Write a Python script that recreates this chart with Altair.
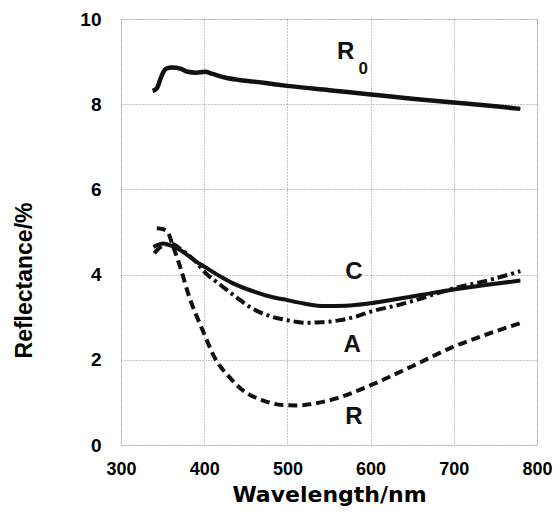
import altair as alt
import pandas as pd

# Reflectance spectra (wavelength nm, reflectance %)
r0_wl = [338, 343, 347, 351, 355, 361, 372, 380, 390, 401, 410, 426, 442, 460, 480, 500, 550, 600, 650, 700, 750, 780]
r0_val = [8.31, 8.37, 8.57, 8.76, 8.84, 8.86, 8.83, 8.76, 8.74, 8.76, 8.71, 8.62, 8.57, 8.53, 8.48, 8.43, 8.33, 8.23, 8.13, 8.04, 7.95, 7.89]

c_wl = [339, 351, 360, 371, 391, 400, 420, 434, 460, 480, 500, 520, 546, 570, 600, 630, 660, 700, 740, 780]
c_val = [4.65, 4.73, 4.68, 4.58, 4.30, 4.19, 3.95, 3.80, 3.60, 3.48, 3.40, 3.32, 3.26, 3.27, 3.33, 3.42, 3.52, 3.65, 3.76, 3.86]

a_wl = [340, 350, 360, 375, 390, 400, 420, 440, 454, 480, 500, 522, 540, 560, 580, 600, 634, 654, 680, 700, 740, 780]
a_val = [4.50, 4.68, 4.72, 4.55, 4.30, 4.07, 3.75, 3.45, 3.25, 3.02, 2.93, 2.87, 2.88, 2.92, 3.00, 3.13, 3.29, 3.40, 3.56, 3.68, 3.86, 4.08]

r_wl = [343, 350, 357, 361, 371, 382, 398, 414, 430, 446, 470, 494, 514, 534, 560, 580, 601, 650, 700, 740, 780]
r_val = [5.09, 5.07, 4.97, 4.75, 4.19, 3.48, 2.70, 2.00, 1.60, 1.29, 1.05, 0.94, 0.93, 0.98, 1.10, 1.24, 1.41, 1.85, 2.31, 2.60, 2.86]

# Curve labels
lab_text = ["R", "C", "A", "R"]
lab_wl = [570, 580, 578, 580]
lab_val = [9.22, 4.05, 2.35, 0.65]
sub_text = ["0"]
sub_wl = [591]
sub_val = [8.82]

x_ticks = [300, 400, 500, 600, 700, 800]
y_ticks = [0, 2, 4, 6, 8, 10]

xs = alt.Scale(domain=[300, 800], nice=False)
ys = alt.Scale(domain=[0, 10], nice=False)

X = alt.X("wl:Q", scale=xs, title="Wavelength/nm",
          axis=alt.Axis(values=x_ticks, ticks=False, domain=False, labelPadding=15,
                        labelFlush=False,
                        labelFont="Liberation Sans", labelFontWeight="bold", labelFontSize=18,
                        titleFont="DejaVu Sans", titleFontWeight="bold", titleFontSize=22,
                        titleY=56, titleBaseline="alphabetic",
                        gridColor="#8a8a8a", gridDash=[1, 2], gridWidth=1))
Y = alt.Y("val:Q", scale=ys, title="Reflectance/%",
          axis=alt.Axis(values=y_ticks, ticks=False, domain=False, labelPadding=20,
                        labelFont="Liberation Sans", labelFontWeight="bold", labelFontSize=19,
                        labelBaseline="middle", labelFlush=False,
                        titleFont="Liberation Sans", titleFontWeight="bold", titleFontSize=23,
                        titleX=-97, titleY=261, titleAngle=270, titleAlign="center",
                        titleBaseline="middle",
                        gridColor="#8a8a8a", gridDash=[1, 2], gridWidth=1))


def line(wl, val, dash, width):
    df = pd.DataFrame({"wl": wl, "val": val})
    kw = dict(color="#111111", strokeWidth=width, interpolate="monotone", strokeCap="butt")
    if dash:
        kw["strokeDash"] = dash
    return alt.Chart(df).mark_line(**kw).encode(x=X, y=Y)


l_r0 = line(r0_wl, r0_val, None, 4.5)
l_c = line(c_wl, c_val, None, 4)
l_a = line(a_wl, a_val, [10, 4, 3, 4], 4)
l_r = line(r_wl, r_val, [9, 5], 4)

labels = alt.Chart(pd.DataFrame({"wl": lab_wl, "val": lab_val, "t": lab_text})).mark_text(
    font="Liberation Sans", fontWeight="bold", fontSize=24, color="#111111", baseline="middle"
).encode(x=X, y=Y, text="t:N")
subs = alt.Chart(pd.DataFrame({"wl": sub_wl, "val": sub_val, "t": sub_text})).mark_text(
    font="Liberation Sans", fontWeight="bold", fontSize=17, color="#111111", baseline="middle"
).encode(x=X, y=Y, text="t:N")

chart = alt.layer(l_r0, l_c, l_a, l_r, labels, subs).properties(
    width=416, height=426,
    autosize=alt.AutoSizeParams(type="none"),
    padding={"left": 113, "top": 11, "right": 15, "bottom": 66},
).configure_view(stroke="#111111", strokeWidth=1.5).configure(background="white")

chart.save("out.html", embed_options={"renderer": "svg", "actions": False})
